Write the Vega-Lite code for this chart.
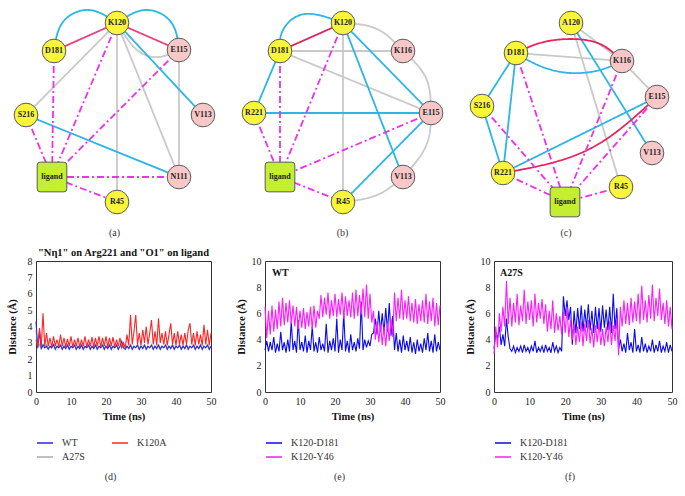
{
"$schema":"https://vega.github.io/schema/vega-lite/v6.json",
"padding":{"left":6,"top":0,"right":0,"bottom":0},
"background":"white",
"config":{"font":"Liberation Serif","view":{"stroke":"#333","strokeWidth":1},
"axis":{"domain":false,"ticks":false,"grid":false,"labelOverlap":false,"labelFont":"Liberation Serif","labelFontSize":10,"labelColor":"#222","titleFont":"Liberation Serif","titleFontSize":10.5,"titleFontWeight":"bold","titleColor":"#111","labelPadding":4},
"axisX":{"labelFlush":false,"titlePadding":5},
"axisY":{"minExtent":14,"maxExtent":14,"titlePadding":5},
"legend":{"symbolType":"stroke","symbolSize":256,"symbolStrokeWidth":1.5,"clipHeight":14,"labelFont":"Liberation Serif","labelFontSize":10,"labelColor":"#333","orient":"bottom","title":null,"rowPadding":0,"columnPadding":26,"offset":14,"labelOffset":8},
"title":{"font":"Liberation Serif","fontSize":10,"fontWeight":"normal","color":"#333"}},
"datasets":{
"nodes":[
{"p":"a","n":"K120","g":"A","x":118,"y":23},{"p":"a","n":"D181","g":"A","x":55,"y":51},{"p":"a","n":"E115","g":"B","x":180,"y":50},{"p":"a","n":"S216","g":"A","x":27,"y":115},{"p":"a","n":"V113","g":"B","x":204,"y":115},{"p":"a","n":"ligand","g":"L","x":53,"y":177},{"p":"a","n":"N111","g":"B","x":180,"y":177},{"p":"a","n":"R45","g":"A","x":118,"y":202},
{"p":"b","n":"K120","g":"A","x":116,"y":23},{"p":"b","n":"D181","g":"A","x":53,"y":51},{"p":"b","n":"K116","g":"B","x":176,"y":51},{"p":"b","n":"R221","g":"A","x":27,"y":113},{"p":"b","n":"E115","g":"B","x":204,"y":113},{"p":"b","n":"ligand","g":"L","x":53,"y":177},{"p":"b","n":"V113","g":"B","x":176,"y":177},{"p":"b","n":"R45","g":"A","x":116,"y":202},
{"p":"c","n":"A120","g":"A","x":116,"y":23},{"p":"c","n":"D181","g":"A","x":61,"y":53},{"p":"c","n":"K116","g":"B","x":167,"y":61},{"p":"c","n":"S216","g":"A","x":27,"y":106},{"p":"c","n":"E115","g":"B","x":202,"y":97},{"p":"c","n":"V113","g":"B","x":197,"y":153},{"p":"c","n":"R221","g":"A","x":48,"y":173},{"p":"c","n":"R45","g":"A","x":166,"y":187},{"p":"c","n":"ligand","g":"L","x":110,"y":202}
],
"edges":[
{"p":"a","e":1,"k":"g","x":[118,138,160,180],"y":[23,50,57,50]},
{"p":"a","e":2,"k":"g","x":[118,27],"y":[23,115]},
{"p":"a","e":3,"k":"g","x":[118,118],"y":[23,202]},
{"p":"a","e":4,"k":"g","x":[118,180],"y":[23,177]},
{"p":"a","e":5,"k":"g","x":[180,180],"y":[50,177]},
{"p":"a","e":6,"k":"b","x":[55,64,90,118],"y":[51,22,10,23]},
{"p":"a","e":7,"k":"b","x":[118,146,172,180],"y":[23,10,22,50]},
{"p":"a","e":8,"k":"b","x":[118,204],"y":[23,115]},
{"p":"a","e":9,"k":"b","x":[27,180],"y":[115,177]},
{"p":"a","e":10,"k":"r","x":[55,118],"y":[51,23]},
{"p":"a","e":11,"k":"r","x":[118,180],"y":[23,50]},
{"p":"a","e":12,"k":"m","x":[55,53],"y":[51,177]},
{"p":"a","e":13,"k":"m","x":[118,53],"y":[23,177]},
{"p":"a","e":14,"k":"m","x":[180,53],"y":[50,177]},
{"p":"a","e":15,"k":"m","x":[27,53],"y":[115,177]},
{"p":"a","e":16,"k":"m","x":[53,180],"y":[177,177]},
{"p":"a","e":17,"k":"m","x":[53,118],"y":[177,202]},
{"p":"b","e":1,"k":"g","x":[53,176],"y":[51,51]},
{"p":"b","e":2,"k":"g","x":[53,204],"y":[51,113]},
{"p":"b","e":3,"k":"g","x":[116,116],"y":[23,202]},
{"p":"b","e":4,"k":"g","x":[116,150,176],"y":[23,29,51]},
{"p":"b","e":5,"k":"g","x":[176,199,204],"y":[51,78,113]},
{"p":"b","e":6,"k":"g","x":[204,199,176],"y":[113,146,177]},
{"p":"b","e":7,"k":"g","x":[176,150,116],"y":[177,195,202]},
{"p":"b","e":8,"k":"b","x":[53,56,78,116],"y":[51,30,14,23]},
{"p":"b","e":9,"k":"b","x":[53,27],"y":[51,113]},
{"p":"b","e":10,"k":"b","x":[27,204],"y":[113,113]},
{"p":"b","e":11,"k":"b","x":[116,204],"y":[23,113]},
{"p":"b","e":12,"k":"b","x":[116,176],"y":[23,177]},
{"p":"b","e":13,"k":"b","x":[116,204],"y":[202,113]},
{"p":"b","e":14,"k":"r","x":[53,116],"y":[51,23]},
{"p":"b","e":15,"k":"m","x":[27,53],"y":[113,177]},
{"p":"b","e":16,"k":"m","x":[53,53],"y":[51,177]},
{"p":"b","e":17,"k":"m","x":[116,53],"y":[23,177]},
{"p":"b","e":18,"k":"m","x":[204,53],"y":[113,177]},
{"p":"b","e":19,"k":"m","x":[53,116],"y":[177,202]},
{"p":"c","e":1,"k":"g","x":[61,167],"y":[53,61]},
{"p":"c","e":2,"k":"g","x":[116,167],"y":[23,61]},
{"p":"c","e":3,"k":"g","x":[167,202],"y":[61,97]},
{"p":"c","e":4,"k":"g","x":[116,166],"y":[23,187]},
{"p":"c","e":5,"k":"b","x":[61,85,115,145,167],"y":[53,66,73,70,61]},
{"p":"c","e":6,"k":"b","x":[116,197],"y":[23,153]},
{"p":"c","e":7,"k":"b","x":[61,27],"y":[53,106]},
{"p":"c","e":8,"k":"b","x":[61,48],"y":[53,173]},
{"p":"c","e":9,"k":"b","x":[27,48],"y":[106,173]},
{"p":"c","e":10,"k":"b","x":[48,202],"y":[173,97]},
{"p":"c","e":11,"k":"r","x":[61,85,115,145,167],"y":[53,43,39,44,61]},
{"p":"c","e":12,"k":"r","x":[48,100,150,202],"y":[173,162,140,97]},
{"p":"c","e":13,"k":"m","x":[61,110],"y":[53,202]},
{"p":"c","e":14,"k":"m","x":[27,110],"y":[106,202]},
{"p":"c","e":15,"k":"m","x":[48,110],"y":[173,202]},
{"p":"c","e":16,"k":"m","x":[167,110],"y":[61,202]},
{"p":"c","e":17,"k":"m","x":[202,110],"y":[97,202]},
{"p":"c","e":18,"k":"m","x":[166,110],"y":[187,202]}
],
"d":[
{"t":0,"WT":4.3,"K120A":3.2,"A27S":3.8},{"t":0.5,"WT":2.7,"K120A":2.8,"A27S":2.7},{"t":1,"WT":3.7,"K120A":3.9,"A27S":2.9},{"t":1.5,"WT":2.6,"K120A":2.8,"A27S":2.7},{"t":2,"WT":2.9,"K120A":4.8,"A27S":2.8},{"t":2.5,"WT":2.7,"K120A":2.8,"A27S":2.7},{"t":3,"WT":2.8,"K120A":3.6,"A27S":2.9},{"t":3.5,"WT":2.6,"K120A":2.8,"A27S":2.7},{"t":4,"WT":2.8,"K120A":3.3,"A27S":2.8},{"t":4.5,"WT":2.7,"K120A":2.75,"A27S":2.7},
{"t":5,"WT":2.9,"K120A":3.4,"A27S":2.9},{"t":5.5,"WT":2.6,"K120A":2.8,"A27S":2.7},{"t":6,"WT":2.8,"K120A":3.2,"A27S":2.8},{"t":6.5,"WT":2.7,"K120A":2.75,"A27S":2.7},{"t":7,"WT":2.85,"K120A":3.5,"A27S":2.9},{"t":7.5,"WT":2.6,"K120A":2.8,"A27S":2.7},{"t":8,"WT":2.8,"K120A":3.3,"A27S":2.8},{"t":8.5,"WT":2.65,"K120A":2.75,"A27S":2.7},{"t":9,"WT":2.85,"K120A":3.25,"A27S":2.9},{"t":9.5,"WT":2.6,"K120A":2.8,"A27S":2.7},
{"t":10,"WT":2.8,"K120A":3.4,"A27S":2.8},{"t":10.5,"WT":2.7,"K120A":2.75,"A27S":2.7},{"t":11,"WT":2.85,"K120A":3.2,"A27S":2.9},{"t":11.5,"WT":2.6,"K120A":2.8,"A27S":2.7},{"t":12,"WT":2.8,"K120A":3.3,"A27S":2.8},{"t":12.5,"WT":2.65,"K120A":2.75,"A27S":2.7},{"t":13,"WT":2.85,"K120A":3.2,"A27S":2.9},{"t":13.5,"WT":2.6,"K120A":2.8,"A27S":2.7},{"t":14,"WT":2.8,"K120A":3.4,"A27S":2.8},{"t":14.5,"WT":2.7,"K120A":2.75,"A27S":2.7},
{"t":15,"WT":2.85,"K120A":3.2,"A27S":2.9},{"t":15.5,"WT":2.6,"K120A":2.8,"A27S":2.7},{"t":16,"WT":2.8,"K120A":3.35,"A27S":2.8},{"t":16.5,"WT":2.65,"K120A":2.75,"A27S":2.7},{"t":17,"WT":2.85,"K120A":3.3,"A27S":2.9},{"t":17.5,"WT":2.6,"K120A":2.8,"A27S":2.7},{"t":18,"WT":2.8,"K120A":3.4,"A27S":2.8},{"t":18.5,"WT":2.7,"K120A":2.75,"A27S":2.7},{"t":19,"WT":2.85,"K120A":3.3,"A27S":2.9},{"t":19.5,"WT":2.6,"K120A":2.8,"A27S":2.7},
{"t":20,"WT":2.8,"K120A":3.4,"A27S":2.8},{"t":20.5,"WT":2.65,"K120A":2.75,"A27S":2.7},{"t":21,"WT":2.85,"K120A":3.3,"A27S":2.9},{"t":21.5,"WT":2.6,"K120A":2.8,"A27S":2.7},{"t":22,"WT":2.8,"K120A":3.35,"A27S":2.8},{"t":22.5,"WT":2.7,"K120A":2.75,"A27S":2.7},{"t":23,"WT":2.85,"K120A":3.2,"A27S":2.9},{"t":23.5,"WT":2.6,"K120A":2.8,"A27S":2.7},{"t":24,"WT":2.8,"K120A":3.3,"A27S":2.8},{"t":24.5,"WT":3.1,"K120A":2.7,"A27S":2.7},
{"t":25,"WT":2.7,"K120A":3.0,"A27S":2.8},{"t":25.5,"WT":2.6,"K120A":2.7,"A27S":2.7},{"t":26,"WT":2.8,"K120A":3.5,"A27S":2.8},{"t":26.5,"WT":2.65,"K120A":2.85,"A27S":2.7},{"t":27,"WT":2.85,"K120A":4.7,"A27S":2.9},{"t":27.5,"WT":2.6,"K120A":2.9,"A27S":2.7},{"t":28,"WT":2.8,"K120A":3.7,"A27S":2.8},{"t":28.5,"WT":2.7,"K120A":4.7,"A27S":2.7},{"t":29,"WT":2.85,"K120A":2.9,"A27S":2.9},{"t":29.5,"WT":2.6,"K120A":3.6,"A27S":2.7},
{"t":30,"WT":2.8,"K120A":2.85,"A27S":2.8},{"t":30.5,"WT":2.65,"K120A":3.8,"A27S":2.7},{"t":31,"WT":2.85,"K120A":3.0,"A27S":2.9},{"t":31.5,"WT":2.6,"K120A":4.0,"A27S":2.7},{"t":32,"WT":2.8,"K120A":2.9,"A27S":2.8},{"t":32.5,"WT":2.7,"K120A":3.6,"A27S":2.7},{"t":33,"WT":2.85,"K120A":4.4,"A27S":2.9},{"t":33.5,"WT":2.6,"K120A":2.9,"A27S":2.7},{"t":34,"WT":2.8,"K120A":3.7,"A27S":2.8},{"t":34.5,"WT":2.65,"K120A":2.85,"A27S":2.7},
{"t":35,"WT":2.85,"K120A":4.5,"A27S":2.9},{"t":35.5,"WT":2.6,"K120A":3.0,"A27S":2.7},{"t":36,"WT":2.8,"K120A":3.6,"A27S":2.8},{"t":36.5,"WT":2.7,"K120A":2.9,"A27S":2.7},{"t":37,"WT":2.85,"K120A":3.7,"A27S":2.9},{"t":37.5,"WT":2.6,"K120A":2.85,"A27S":2.7},{"t":38,"WT":2.8,"K120A":3.5,"A27S":2.8},{"t":38.5,"WT":2.65,"K120A":4.2,"A27S":2.7},{"t":39,"WT":2.85,"K120A":2.9,"A27S":2.9},{"t":39.5,"WT":2.6,"K120A":3.6,"A27S":2.7},
{"t":40,"WT":2.8,"K120A":2.85,"A27S":2.8},{"t":40.5,"WT":2.7,"K120A":3.7,"A27S":2.7},{"t":41,"WT":2.85,"K120A":2.9,"A27S":2.9},{"t":41.5,"WT":2.6,"K120A":3.5,"A27S":2.7},{"t":42,"WT":2.8,"K120A":2.85,"A27S":2.8},{"t":42.5,"WT":2.65,"K120A":3.6,"A27S":2.7},{"t":43,"WT":2.85,"K120A":2.9,"A27S":2.9},{"t":43.5,"WT":2.6,"K120A":3.8,"A27S":2.7},{"t":44,"WT":2.8,"K120A":4.2,"A27S":2.8},{"t":44.5,"WT":2.7,"K120A":2.9,"A27S":2.7},
{"t":45,"WT":2.85,"K120A":3.6,"A27S":2.9},{"t":45.5,"WT":2.6,"K120A":2.85,"A27S":2.7},{"t":46,"WT":2.8,"K120A":3.7,"A27S":2.8},{"t":46.5,"WT":2.65,"K120A":2.9,"A27S":2.7},{"t":47,"WT":2.85,"K120A":3.5,"A27S":2.9},{"t":47.5,"WT":2.6,"K120A":2.85,"A27S":2.7},{"t":48,"WT":2.8,"K120A":4.1,"A27S":2.8},{"t":48.5,"WT":2.7,"K120A":2.9,"A27S":2.7},{"t":49,"WT":2.85,"K120A":3.8,"A27S":2.9},{"t":49.5,"WT":2.6,"K120A":2.85,"A27S":2.7},{"t":50,"WT":2.8,"K120A":3.6,"A27S":2.8}
],
"e":[
{"t":0,"K120-D181":3.2,"K120-Y46":6.5},{"t":0.5,"K120-D181":3.9,"K120-Y46":4.1},{"t":1,"K120-D181":3.1,"K120-Y46":6.2},{"t":1.5,"K120-D181":3.8,"K120-Y46":4.4},{"t":2,"K120-D181":3.2,"K120-Y46":6.6},{"t":2.5,"K120-D181":4.2,"K120-Y46":4.6},{"t":3,"K120-D181":3.0,"K120-Y46":6.3},{"t":3.5,"K120-D181":3.7,"K120-Y46":4.8},{"t":4,"K120-D181":3.1,"K120-Y46":6.9},{"t":4.5,"K120-D181":4.6,"K120-Y46":5.0},
{"t":5,"K120-D181":3.2,"K120-Y46":7.2},{"t":5.5,"K120-D181":3.8,"K120-Y46":5.1},{"t":6,"K120-D181":3.0,"K120-Y46":6.8},{"t":6.5,"K120-D181":4.0,"K120-Y46":5.3},{"t":7,"K120-D181":3.1,"K120-Y46":7.0},{"t":7.5,"K120-D181":5.4,"K120-Y46":5.2},{"t":8,"K120-D181":3.2,"K120-Y46":6.6},{"t":8.5,"K120-D181":3.9,"K120-Y46":5.0},{"t":9,"K120-D181":3.0,"K120-Y46":6.5},{"t":9.5,"K120-D181":5.5,"K120-Y46":4.8},
{"t":10,"K120-D181":3.2,"K120-Y46":6.2},{"t":10.5,"K120-D181":3.8,"K120-Y46":4.9},{"t":11,"K120-D181":3.1,"K120-Y46":6.4},{"t":11.5,"K120-D181":4.3,"K120-Y46":4.8},{"t":12,"K120-D181":3.0,"K120-Y46":6.1},{"t":12.5,"K120-D181":3.9,"K120-Y46":5.0},{"t":13,"K120-D181":3.2,"K120-Y46":6.5},{"t":13.5,"K120-D181":5.0,"K120-Y46":4.8},{"t":14,"K120-D181":3.1,"K120-Y46":6.6},{"t":14.5,"K120-D181":3.8,"K120-Y46":4.9},
{"t":15,"K120-D181":3.0,"K120-Y46":6.2},{"t":15.5,"K120-D181":4.2,"K120-Y46":5.6},{"t":16,"K120-D181":3.2,"K120-Y46":7.4},{"t":16.5,"K120-D181":3.7,"K120-Y46":5.7},{"t":17,"K120-D181":3.1,"K120-Y46":7.2},{"t":17.5,"K120-D181":5.2,"K120-Y46":5.9},{"t":18,"K120-D181":3.0,"K120-Y46":7.6},{"t":18.5,"K120-D181":3.9,"K120-Y46":5.6},{"t":19,"K120-D181":3.2,"K120-Y46":7.0},{"t":19.5,"K120-D181":4.1,"K120-Y46":5.8},
{"t":20,"K120-D181":3.1,"K120-Y46":7.5},{"t":20.5,"K120-D181":5.6,"K120-Y46":5.7},{"t":21,"K120-D181":3.0,"K120-Y46":7.1},{"t":21.5,"K120-D181":4.0,"K120-Y46":5.9},{"t":22,"K120-D181":3.2,"K120-Y46":7.6},{"t":22.5,"K120-D181":6.0,"K120-Y46":5.6},{"t":23,"K120-D181":3.1,"K120-Y46":7.3},{"t":23.5,"K120-D181":3.9,"K120-Y46":5.8},{"t":24,"K120-D181":3.0,"K120-Y46":7.0},{"t":24.5,"K120-D181":4.4,"K120-Y46":5.7},
{"t":25,"K120-D181":3.2,"K120-Y46":7.6},{"t":25.5,"K120-D181":3.8,"K120-Y46":5.6},{"t":26,"K120-D181":3.1,"K120-Y46":7.8},{"t":26.5,"K120-D181":4.1,"K120-Y46":5.8},{"t":27,"K120-D181":3.3,"K120-Y46":7.4},{"t":27.5,"K120-D181":6.9,"K120-Y46":5.9},{"t":28,"K120-D181":3.2,"K120-Y46":7.9},{"t":28.5,"K120-D181":4.0,"K120-Y46":5.7},{"t":29,"K120-D181":3.4,"K120-Y46":8.2},{"t":29.5,"K120-D181":3.9,"K120-Y46":5.6},
{"t":30,"K120-D181":3.5,"K120-Y46":7.5},{"t":30.5,"K120-D181":4.4,"K120-Y46":5.3},{"t":31,"K120-D181":4.5,"K120-Y46":6.2},{"t":31.5,"K120-D181":5.6,"K120-Y46":4.0},{"t":32,"K120-D181":4.4,"K120-Y46":5.4},{"t":32.5,"K120-D181":6.2,"K120-Y46":3.8},{"t":33,"K120-D181":4.6,"K120-Y46":5.2},{"t":33.5,"K120-D181":6.0,"K120-Y46":3.6},{"t":34,"K120-D181":4.5,"K120-Y46":5.0},{"t":34.5,"K120-D181":6.4,"K120-Y46":3.5},
{"t":35,"K120-D181":4.6,"K120-Y46":5.3},{"t":35.5,"K120-D181":6.8,"K120-Y46":3.9},{"t":36,"K120-D181":4.3,"K120-Y46":5.6},{"t":36.5,"K120-D181":5.8,"K120-Y46":4.2},{"t":37,"K120-D181":3.2,"K120-Y46":7.6},{"t":37.5,"K120-D181":4.5,"K120-Y46":5.4},{"t":38,"K120-D181":3.1,"K120-Y46":7.2},{"t":38.5,"K120-D181":4.0,"K120-Y46":5.6},{"t":39,"K120-D181":3.0,"K120-Y46":7.8},{"t":39.5,"K120-D181":4.3,"K120-Y46":5.5},
{"t":40,"K120-D181":3.2,"K120-Y46":7.0},{"t":40.5,"K120-D181":3.9,"K120-Y46":5.6},{"t":41,"K120-D181":3.1,"K120-Y46":7.3},{"t":41.5,"K120-D181":4.2,"K120-Y46":5.4},{"t":42,"K120-D181":3.0,"K120-Y46":6.8},{"t":42.5,"K120-D181":3.8,"K120-Y46":5.3},{"t":43,"K120-D181":2.9,"K120-Y46":7.1},{"t":43.5,"K120-D181":4.0,"K120-Y46":5.2},{"t":44,"K120-D181":3.1,"K120-Y46":6.7},{"t":44.5,"K120-D181":3.7,"K120-Y46":5.4},
{"t":45,"K120-D181":3.0,"K120-Y46":7.0},{"t":45.5,"K120-D181":4.1,"K120-Y46":5.3},{"t":46,"K120-D181":3.2,"K120-Y46":7.5},{"t":46.5,"K120-D181":4.5,"K120-Y46":5.2},{"t":47,"K120-D181":3.1,"K120-Y46":6.9},{"t":47.5,"K120-D181":3.9,"K120-Y46":5.4},{"t":48,"K120-D181":3.0,"K120-Y46":7.2},{"t":48.5,"K120-D181":4.4,"K120-Y46":5.0},{"t":49,"K120-D181":3.1,"K120-Y46":6.8},{"t":49.5,"K120-D181":3.8,"K120-Y46":5.1},{"t":50,"K120-D181":3.2,"K120-Y46":6.6}
],
"f":[
{"t":0,"K120-D181":3.3,"K120-Y46":2.9},{"t":0.5,"K120-D181":4.5,"K120-Y46":5.0},{"t":1,"K120-D181":4.1,"K120-Y46":3.4},{"t":1.5,"K120-D181":5.0,"K120-Y46":6.0},{"t":2,"K120-D181":3.6,"K120-Y46":4.6},{"t":2.5,"K120-D181":4.4,"K120-Y46":6.5},{"t":3,"K120-D181":3.5,"K120-Y46":5.0},{"t":3.5,"K120-D181":5.6,"K120-Y46":8.5},{"t":4,"K120-D181":4.2,"K120-Y46":5.2},{"t":4.5,"K120-D181":3.3,"K120-Y46":7.2},
{"t":5,"K120-D181":3.1,"K120-Y46":5.0},{"t":5.5,"K120-D181":3.5,"K120-Y46":6.8},{"t":6,"K120-D181":3.0,"K120-Y46":5.3},{"t":6.5,"K120-D181":3.4,"K120-Y46":7.5},{"t":7,"K120-D181":3.1,"K120-Y46":5.1},{"t":7.5,"K120-D181":3.5,"K120-Y46":6.6},{"t":8,"K120-D181":3.0,"K120-Y46":5.4},{"t":8.5,"K120-D181":3.6,"K120-Y46":7.8},{"t":9,"K120-D181":3.1,"K120-Y46":5.2},{"t":9.5,"K120-D181":3.4,"K120-Y46":6.9},
{"t":10,"K120-D181":3.0,"K120-Y46":5.5},{"t":10.5,"K120-D181":3.5,"K120-Y46":7.0},{"t":11,"K120-D181":3.1,"K120-Y46":5.0},{"t":11.5,"K120-D181":3.9,"K120-Y46":7.5},{"t":12,"K120-D181":3.0,"K120-Y46":5.3},{"t":12.5,"K120-D181":3.4,"K120-Y46":6.8},{"t":13,"K120-D181":3.1,"K120-Y46":5.6},{"t":13.5,"K120-D181":3.5,"K120-Y46":7.1},{"t":14,"K120-D181":3.0,"K120-Y46":5.2},{"t":14.5,"K120-D181":3.6,"K120-Y46":6.7},
{"t":15,"K120-D181":3.1,"K120-Y46":4.6},{"t":15.5,"K120-D181":3.4,"K120-Y46":6.2},{"t":16,"K120-D181":3.0,"K120-Y46":4.8},{"t":16.5,"K120-D181":3.8,"K120-Y46":7.0},{"t":17,"K120-D181":3.1,"K120-Y46":4.5},{"t":17.5,"K120-D181":3.5,"K120-Y46":6.0},{"t":18,"K120-D181":3.0,"K120-Y46":4.7},{"t":18.5,"K120-D181":3.4,"K120-Y46":5.8},{"t":19,"K120-D181":3.1,"K120-Y46":4.4},{"t":19.5,"K120-D181":7.3,"K120-Y46":6.1},
{"t":20,"K120-D181":5.8,"K120-Y46":4.5},{"t":20.5,"K120-D181":7.0,"K120-Y46":6.5},{"t":21,"K120-D181":5.5,"K120-Y46":4.2},{"t":21.5,"K120-D181":6.5,"K120-Y46":5.5},{"t":22,"K120-D181":3.6,"K120-Y46":4.0},{"t":22.5,"K120-D181":6.2,"K120-Y46":5.2},{"t":23,"K120-D181":4.5,"K120-Y46":3.6},{"t":23.5,"K120-D181":6.4,"K120-Y46":5.0},{"t":24,"K120-D181":4.8,"K120-Y46":3.8},{"t":24.5,"K120-D181":6.6,"K120-Y46":5.4},
{"t":25,"K120-D181":4.6,"K120-Y46":3.5},{"t":25.5,"K120-D181":6.3,"K120-Y46":5.2},{"t":26,"K120-D181":4.9,"K120-Y46":3.9},{"t":26.5,"K120-D181":6.7,"K120-Y46":5.5},{"t":27,"K120-D181":4.7,"K120-Y46":3.7},{"t":27.5,"K120-D181":6.2,"K120-Y46":4.9},{"t":28,"K120-D181":4.5,"K120-Y46":3.4},{"t":28.5,"K120-D181":6.5,"K120-Y46":5.1},{"t":29,"K120-D181":4.8,"K120-Y46":3.8},{"t":29.5,"K120-D181":6.4,"K120-Y46":5.3},
{"t":30,"K120-D181":4.6,"K120-Y46":3.6},{"t":30.5,"K120-D181":6.6,"K120-Y46":4.8},{"t":31,"K120-D181":4.9,"K120-Y46":3.5},{"t":31.5,"K120-D181":6.3,"K120-Y46":5.0},{"t":32,"K120-D181":4.7,"K120-Y46":3.8},{"t":32.5,"K120-D181":6.5,"K120-Y46":5.4},{"t":33,"K120-D181":4.5,"K120-Y46":3.6},{"t":33.5,"K120-D181":7.5,"K120-Y46":5.1},{"t":34,"K120-D181":4.8,"K120-Y46":3.9},{"t":34.5,"K120-D181":6.4,"K120-Y46":5.6},
{"t":35,"K120-D181":3.3,"K120-Y46":2.8},{"t":35.5,"K120-D181":4.0,"K120-Y46":6.5},{"t":36,"K120-D181":3.1,"K120-Y46":5.0},{"t":36.5,"K120-D181":3.7,"K120-Y46":7.0},{"t":37,"K120-D181":3.0,"K120-Y46":5.2},{"t":37.5,"K120-D181":4.5,"K120-Y46":6.8},{"t":38,"K120-D181":3.2,"K120-Y46":5.1},{"t":38.5,"K120-D181":3.8,"K120-Y46":7.2},{"t":39,"K120-D181":3.0,"K120-Y46":5.3},{"t":39.5,"K120-D181":4.8,"K120-Y46":6.9},
{"t":40,"K120-D181":3.1,"K120-Y46":5.4},{"t":40.5,"K120-D181":3.6,"K120-Y46":7.5},{"t":41,"K120-D181":3.0,"K120-Y46":5.2},{"t":41.5,"K120-D181":4.2,"K120-Y46":8.1},{"t":42,"K120-D181":3.1,"K120-Y46":5.5},{"t":42.5,"K120-D181":3.7,"K120-Y46":7.0},{"t":43,"K120-D181":3.0,"K120-Y46":5.3},{"t":43.5,"K120-D181":3.5,"K120-Y46":7.4},{"t":44,"K120-D181":3.1,"K120-Y46":5.6},{"t":44.5,"K120-D181":4.0,"K120-Y46":8.2},
{"t":45,"K120-D181":3.0,"K120-Y46":5.4},{"t":45.5,"K120-D181":3.6,"K120-Y46":7.2},{"t":46,"K120-D181":3.1,"K120-Y46":5.8},{"t":46.5,"K120-D181":3.9,"K120-Y46":7.9},{"t":47,"K120-D181":3.0,"K120-Y46":5.5},{"t":47.5,"K120-D181":3.5,"K120-Y46":6.8},{"t":48,"K120-D181":3.1,"K120-Y46":5.2},{"t":48.5,"K120-D181":3.8,"K120-Y46":7.0},{"t":49,"K120-D181":3.0,"K120-Y46":5.0},{"t":49.5,"K120-D181":3.6,"K120-Y46":6.5},{"t":50,"K120-D181":3.1,"K120-Y46":4.8}
]
},
"resolve":{"scale":{"color":"independent","strokeDash":"independent","fill":"independent"}},
"columns":3,
"bounds":"flush",
"spacing":{"row":36,"column":54},
"concat":[
{"width":175,"height":225,"view":{"stroke":null},
"title":{"text":"(a)","orient":"bottom","offset":3,"dx":-9},
"layer":[
{"data":{"name":"edges"},"transform":[{"filter":"datum.p=='a'"},{"flatten":["x","y"]}],
"mark":{"type":"line","interpolate":"natural","strokeWidth":1.8},
"encoding":{"x":{"field":"x","type":"quantitative","scale":{"domain":[37,212],"nice":false,"zero":false},"axis":null},"y":{"field":"y","type":"quantitative","scale":{"domain":[0,225],"nice":false,"reverse":true},"axis":null},"detail":{"field":"e"},"order":{"value":null},
"color":{"field":"k","type":"nominal","scale":{"domain":["g","b","r","m"],"range":["#c9c9c9","#2bb6e6","#e8437c","#ee30ee"]},"legend":null},
"strokeDash":{"field":"k","type":"nominal","scale":{"domain":["g","b","r","m"],"range":[[1,0],[1,0],[1,0],[7,3,2,3]]},"legend":null}}},
{"data":{"name":"nodes"},"transform":[{"filter":"datum.p=='a' && datum.g!='L'"}],"mark":{"type":"point","shape":"circle","filled":true,"size":560,"stroke":"#5a5a5a","strokeWidth":1,"opacity":1},
"encoding":{"x":{"field":"x","type":"quantitative"},"y":{"field":"y","type":"quantitative"},"fill":{"field":"g","type":"nominal","scale":{"domain":["A","B"],"range":["#f8f53a","#f8c8c8"]},"legend":null}}},
{"data":{"name":"nodes"},"transform":[{"filter":"datum.p=='a' && datum.g=='L'"}],"mark":{"type":"point","shape":"M-0.8,-1L0.8,-1Q1,-1 1,-0.8L1,0.8Q1,1 0.8,1L-0.8,1Q-1,1 -1,0.8L-1,-0.8Q-1,-1 -0.8,-1Z","filled":true,"size":880,"fill":"#c4ee32","stroke":"#5a5a5a","strokeWidth":1,"opacity":1},
"encoding":{"x":{"field":"x","type":"quantitative"},"y":{"field":"y","type":"quantitative"}}},
{"data":{"name":"nodes"},"transform":[{"filter":"datum.p=='a'"}],"mark":{"type":"text","font":"Liberation Serif","fontWeight":"bold","fontSize":8,"color":"#222"},
"encoding":{"x":{"field":"x","type":"quantitative"},"y":{"field":"y","type":"quantitative"},"text":{"field":"n"}}}
]},
{"width":175,"height":225,"view":{"stroke":null},
"title":{"text":"(b)","orient":"bottom","offset":3,"dx":-10},
"layer":[
{"data":{"name":"edges"},"transform":[{"filter":"datum.p=='b'"},{"flatten":["x","y"]}],
"mark":{"type":"line","interpolate":"natural","strokeWidth":1.8},
"encoding":{"x":{"field":"x","type":"quantitative","scale":{"domain":[38,213],"nice":false,"zero":false},"axis":null},"y":{"field":"y","type":"quantitative","scale":{"domain":[0,225],"nice":false,"reverse":true},"axis":null},"detail":{"field":"e"},"order":{"value":null},
"color":{"field":"k","type":"nominal","scale":{"domain":["g","b","r","m"],"range":["#c9c9c9","#2bb6e6","#d8285a","#ee30ee"]},"legend":null},
"strokeDash":{"field":"k","type":"nominal","scale":{"domain":["g","b","r","m"],"range":[[1,0],[1,0],[1,0],[7,3,2,3]]},"legend":null}}},
{"data":{"name":"nodes"},"transform":[{"filter":"datum.p=='b' && datum.g!='L'"}],"mark":{"type":"point","shape":"circle","filled":true,"size":560,"stroke":"#5a5a5a","strokeWidth":1,"opacity":1},
"encoding":{"x":{"field":"x","type":"quantitative"},"y":{"field":"y","type":"quantitative"},"fill":{"field":"g","type":"nominal","scale":{"domain":["A","B"],"range":["#f8f53a","#f8c8c8"]},"legend":null}}},
{"data":{"name":"nodes"},"transform":[{"filter":"datum.p=='b' && datum.g=='L'"}],"mark":{"type":"point","shape":"M-0.8,-1L0.8,-1Q1,-1 1,-0.8L1,0.8Q1,1 0.8,1L-0.8,1Q-1,1 -1,0.8L-1,-0.8Q-1,-1 -0.8,-1Z","filled":true,"size":880,"fill":"#c4ee32","stroke":"#5a5a5a","strokeWidth":1,"opacity":1},
"encoding":{"x":{"field":"x","type":"quantitative"},"y":{"field":"y","type":"quantitative"}}},
{"data":{"name":"nodes"},"transform":[{"filter":"datum.p=='b'"}],"mark":{"type":"text","font":"Liberation Serif","fontWeight":"bold","fontSize":8,"color":"#222"},
"encoding":{"x":{"field":"x","type":"quantitative"},"y":{"field":"y","type":"quantitative"},"text":{"field":"n"}}}
]},
{"width":178,"height":225,"view":{"stroke":null},
"title":{"text":"(c)","orient":"bottom","offset":3,"dx":-17},
"layer":[
{"data":{"name":"edges"},"transform":[{"filter":"datum.p=='c'"},{"flatten":["x","y"]}],
"mark":{"type":"line","interpolate":"natural","strokeWidth":1.8},
"encoding":{"x":{"field":"x","type":"quantitative","scale":{"domain":[39,217],"nice":false,"zero":false},"axis":null},"y":{"field":"y","type":"quantitative","scale":{"domain":[0,225],"nice":false,"reverse":true},"axis":null},"detail":{"field":"e"},"order":{"value":null},
"color":{"field":"k","type":"nominal","scale":{"domain":["g","b","r","m"],"range":["#c9c9c9","#2bb6e6","#e6245e","#ee30ee"]},"legend":null},
"strokeDash":{"field":"k","type":"nominal","scale":{"domain":["g","b","r","m"],"range":[[1,0],[1,0],[1,0],[7,3,2,3]]},"legend":null}}},
{"data":{"name":"nodes"},"transform":[{"filter":"datum.p=='c' && datum.g!='L'"}],"mark":{"type":"point","shape":"circle","filled":true,"size":560,"stroke":"#5a5a5a","strokeWidth":1,"opacity":1},
"encoding":{"x":{"field":"x","type":"quantitative"},"y":{"field":"y","type":"quantitative"},"fill":{"field":"g","type":"nominal","scale":{"domain":["A","B"],"range":["#f8f53a","#f8c8c8"]},"legend":null}}},
{"data":{"name":"nodes"},"transform":[{"filter":"datum.p=='c' && datum.g=='L'"}],"mark":{"type":"point","shape":"M-0.8,-1L0.8,-1Q1,-1 1,-0.8L1,0.8Q1,1 0.8,1L-0.8,1Q-1,1 -1,0.8L-1,-0.8Q-1,-1 -0.8,-1Z","filled":true,"size":880,"fill":"#c4ee32","stroke":"#5a5a5a","strokeWidth":1,"opacity":1},
"encoding":{"x":{"field":"x","type":"quantitative"},"y":{"field":"y","type":"quantitative"}}},
{"data":{"name":"nodes"},"transform":[{"filter":"datum.p=='c'"}],"mark":{"type":"text","font":"Liberation Serif","fontWeight":"bold","fontSize":8,"color":"#222"},
"encoding":{"x":{"field":"x","type":"quantitative"},"y":{"field":"y","type":"quantitative"},"text":{"field":"n"}}}
]},
{"width":175,"height":131,"view":{"stroke":"#333"},
"title":{"text":"(d)","orient":"bottom","offset":8,"dx":-13},
"layer":[
{"data":{"name":"d"},"transform":[{"fold":["A27S","WT","K120A"],"as":["s","v"]}],
"mark":{"type":"line","strokeWidth":1.1},
"encoding":{"x":{"field":"t","type":"quantitative","scale":{"domain":[0,50],"nice":false},"axis":{"values":[0,10,20,30,40,50],"title":"Time (ns)"}},
"y":{"field":"v","type":"quantitative","scale":{"domain":[0,8],"nice":false},"axis":{"values":[0,1,2,3,4,5,6,7,8],"title":"Distance (Å)"}},
"color":{"field":"s","type":"nominal","scale":{"domain":["WT","K120A","A27S"],"range":["#2b2bdc","#ff2424","#aaaaaa"]},"legend":{"columns":2}}}},
{"data":{"values":[{}]},"mark":{"type":"text","text":"\"Nη1\" on Arg221 and \"O1\" on ligand","font":"Liberation Serif","fontWeight":"bold","fontSize":10.5,"color":"#111"},
"encoding":{"x":{"datum":25,"type":"quantitative","axis":{"values":[0,10,20,30,40,50],"title":"Time (ns)"}},"y":{"datum":8.5,"type":"quantitative","axis":{"values":[0,1,2,3,4,5,6,7,8],"title":"Distance (Å)"}}}}
]},
{"width":175,"height":131,"view":{"stroke":"#333"},
"title":{"text":"(e)","orient":"bottom","offset":8,"dx":-13},
"layer":[
{"data":{"name":"e"},"transform":[{"fold":["K120-D181","K120-Y46"],"as":["s","v"]}],
"mark":{"type":"line","strokeWidth":1.1},
"encoding":{"x":{"field":"t","type":"quantitative","scale":{"domain":[0,50],"nice":false},"axis":{"values":[0,10,20,30,40,50],"title":"Time (ns)"}},
"y":{"field":"v","type":"quantitative","scale":{"domain":[0,10],"nice":false},"axis":{"values":[0,2,4,6,8,10],"title":"Distance (Å)"}},
"color":{"field":"s","type":"nominal","scale":{"domain":["K120-D181","K120-Y46"],"range":["#0a0aee","#ff1aff"]},"legend":{"columns":1}}}},
{"data":{"values":[{}]},"mark":{"type":"text","text":"WT","align":"left","font":"Liberation Serif","fontWeight":"bold","fontSize":10,"color":"#111"},
"encoding":{"x":{"datum":2,"type":"quantitative","axis":{"values":[0,10,20,30,40,50],"title":"Time (ns)"}},"y":{"datum":9.1,"type":"quantitative","axis":{"values":[0,2,4,6,8,10],"title":"Distance (Å)"}}}}
]},
{"width":178,"height":131,"view":{"stroke":"#333"},
"title":{"text":"(f)","orient":"bottom","offset":8,"dx":-13},
"layer":[
{"data":{"name":"f"},"transform":[{"fold":["K120-D181","K120-Y46"],"as":["s","v"]}],
"mark":{"type":"line","strokeWidth":1.1},
"encoding":{"x":{"field":"t","type":"quantitative","scale":{"domain":[0,50],"nice":false},"axis":{"values":[0,10,20,30,40,50],"title":"Time (ns)"}},
"y":{"field":"v","type":"quantitative","scale":{"domain":[0,10],"nice":false},"axis":{"values":[0,2,4,6,8,10],"title":"Distance (Å)"}},
"color":{"field":"s","type":"nominal","scale":{"domain":["K120-D181","K120-Y46"],"range":["#0a0aee","#ff1aff"]},"legend":{"columns":1}}}},
{"data":{"values":[{}]},"mark":{"type":"text","text":"A27S","align":"left","font":"Liberation Serif","fontWeight":"bold","fontSize":10,"color":"#111"},
"encoding":{"x":{"datum":1.7,"type":"quantitative","axis":{"values":[0,10,20,30,40,50],"title":"Time (ns)"}},"y":{"datum":9.1,"type":"quantitative","axis":{"values":[0,2,4,6,8,10],"title":"Distance (Å)"}}}}
]}
]
}
